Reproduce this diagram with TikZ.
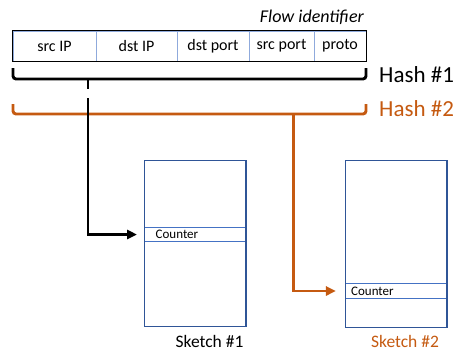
\documentclass[tikz,border=0pt]{standalone}
\usepackage{fontspec}
\setmainfont{Carlito}
\usetikzlibrary{arrows.meta}
\definecolor{hashorange}{HTML}{C55A11}
\definecolor{sketchblue}{HTML}{2F5597}
\definecolor{cellblue}{HTML}{8FAADC}
\definecolor{rowblue}{HTML}{4472C4}

\begin{document}
\begin{tikzpicture}[x=1pt,y=-1pt,
  cell/.style={draw=cellblue, line width=0.8pt, minimum height=30pt, inner sep=0pt,
               font=\fontsize{16}{16}\selectfont},
  bracepath/.style={line width=2.9pt, rounded corners=3pt},
  link/.style={line width=2.9pt, -{Triangle[length=10pt,width=9pt]}},
  sketchbox/.style={draw=sketchblue, line width=1.3pt, inner sep=0pt, minimum width=101.5pt},
  counterrow/.style={draw=rowblue, line width=1pt, inner sep=0pt, minimum width=101.5pt},
  countertext/.style={anchor=west, inner sep=0pt, font=\fontsize{13}{13}\selectfont},
  hashlabel/.style={anchor=base west, inner sep=0pt, font=\fontsize{23}{23}\selectfont},
  sketchlabel/.style={anchor=base, inner sep=0pt, font=\fontsize{17.5}{17.5}\selectfont}]
\useasboundingbox (0,0) rectangle (460,351);

% flow identifier fields
\node[cell, minimum width=83pt] (srcip)   at (54.5,46)  {src IP};
\node[cell, minimum width=81pt] (dstip)   at (136.5,46) {dst IP};
\node[cell, minimum width=72pt] (dstport) at (213,46)   {dst port};
\node[cell, minimum width=65pt] (srcport) at (281.5,46) {src port};
\node[cell, minimum width=52pt] (proto)   at (340,46)   {proto};
\draw[line width=1.1pt] (srcip.north west) rectangle (proto.south east);
\node[anchor=base east, inner sep=0pt, font=\fontsize{18}{18}\selectfont\itshape]
  (flowid) at (364,22.5) {Flow identifier};

% hash braces
\draw[bracepath, hashorange] (13,104) -- (13,114) -- (366,114) -- (366,104);
\draw[bracepath] (13,68) -- (13,79) -- (366,79) -- (366,68);
\draw[line width=2.9pt] (88,79) -- (88,89);
\node[hashlabel] (h1lab) at (379,82.3) {Hash \#1};
\node[hashlabel, text=hashorange] (h2lab) at (379,116.7) {Hash \#2};

% sketches
\node[counterrow, minimum height=14.5pt] (c1) at (195.25,234.5) {};
\node[counterrow, minimum height=15.4pt] (c2) at (396.2,291) {};
\node[sketchbox, minimum height=166pt] (s1) at (195.25,243.7) {};
\node[sketchbox, minimum height=166.6pt] (s2) at (396.2,244) {};
\node[countertext] (t1) at ([xshift=11.5pt]c1.west) {Counter};
\node[countertext] (t2) at ([xshift=6pt]c2.west) {Counter};
\node[sketchlabel] (s1lab) at (209.5,347) {Sketch \#1};
\node[sketchlabel, text=hashorange] (s2lab) at (405,347) {Sketch \#2};

% hash outputs into the counters
\coordinate (h2out) at (293.5,114);
\coordinate (h1out) at (88,98);
\draw[link, hashorange, shorten >=9pt] (h2out) |- (c2.west);
\draw[link, shorten >=7pt] (h1out) |- (c1.west);
\end{tikzpicture}
\end{document}
